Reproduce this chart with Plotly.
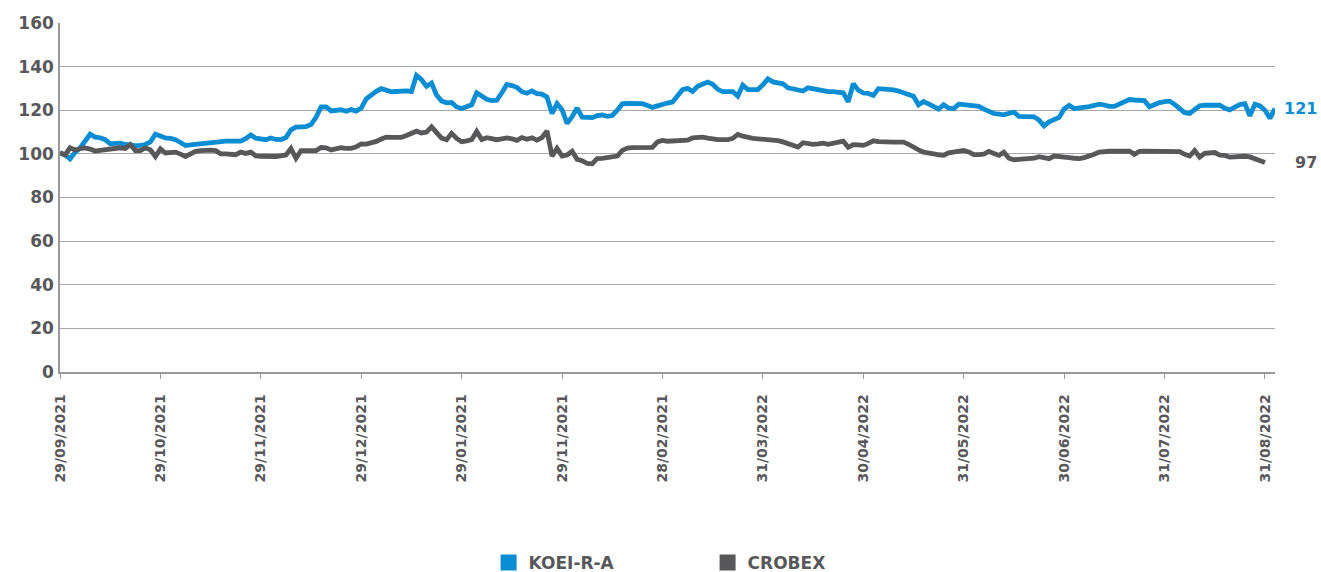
import plotly.graph_objects as go

# ---- data -----------------------------------------------------------------
tick_labels = ["29/09/2021", "29/10/2021", "29/11/2021", "29/12/2021", "29/01/2021",
               "29/11/2021", "28/02/2021", "31/03/2022", "30/04/2022", "31/05/2022",
               "30/06/2022", "31/07/2022", "31/08/2022"]
points_per_label = 20

koei = [
    100.5, 99.5, 97.7, 100.7, 102.7, 105.6, 109.0, 107.7, 107.4, 106.5,
    104.6, 104.8, 104.9, 104.3, 103.8, 103.8, 103.9, 104.3, 105.5, 109.0,
    108.2, 107.3, 107.1, 106.5, 105.2, 103.8, 104.1, 104.4, 104.6, 104.9,
    105.1, 105.4, 105.6, 105.8, 105.8, 105.8, 105.8, 107.0, 108.7, 107.2,
    106.9, 106.5, 107.3, 106.6, 106.5, 107.5, 111.0, 112.3, 112.4, 112.5,
    113.4, 116.8, 121.5, 121.5, 119.7, 120.0, 120.2, 119.5, 120.3, 119.6,
    121.0, 125.2, 127.3, 128.7, 129.9, 129.1, 128.5, 128.6, 128.8, 128.9,
    128.6, 136.0, 134.0, 131.0, 132.5, 127.0, 124.3, 123.4, 123.6, 121.5,
    120.8, 121.7, 122.5, 128.0, 126.4, 125.0, 124.4, 124.6, 128.0, 131.8,
    131.3, 130.5, 128.5, 127.8, 128.9, 127.6, 127.4, 126.0, 118.5, 123.0,
    120.2, 114.0, 117.0, 121.0, 116.8, 116.6, 116.6, 117.5, 117.8, 117.2,
    117.6, 120.0, 122.9, 123.1, 123.2, 123.3, 123.0, 122.2, 121.3, 122.0,
    122.9, 123.3, 123.8, 126.4, 129.4, 130.0, 128.6, 131.0, 132.2, 132.9,
    131.9, 129.6, 128.5, 128.5, 128.5, 126.5, 131.5, 129.5, 129.5, 129.5,
    131.7, 134.4, 133.0, 132.7, 132.1, 130.3, 129.7, 129.2, 128.8, 130.3,
    129.8, 129.3, 128.8, 128.5, 128.5, 128.5, 128.0, 123.8, 132.2, 129.2,
    127.9, 127.7, 126.8, 129.9, 129.8, 129.6, 129.3, 128.8, 128.1, 127.3,
    126.4, 122.5, 124.0, 122.9, 121.7, 120.5, 122.5, 121.0, 120.7, 122.8,
    122.6, 122.3, 122.0, 121.8, 120.5, 119.2, 118.5, 118.2, 117.9, 118.6,
    119.1, 117.2, 117.1, 117.0, 117.0, 115.5, 112.8, 114.7, 115.8, 116.7,
    120.6, 122.2, 120.8, 121.0, 121.2, 121.7, 122.2, 122.8, 122.4, 121.8,
    121.8, 122.8, 123.8, 124.9, 124.7, 124.6, 124.4, 121.6, 122.6, 123.5,
    124.0, 124.2, 122.7, 120.8, 118.9, 118.5, 120.0, 122.0, 122.3, 122.3,
    122.3, 122.3, 120.9, 120.2, 121.4, 122.6, 123.0, 117.5, 122.8, 122.0,
    120.0, 116.3, 120.8,
]

crobex = [
    100.5, 99.5, 102.8, 101.8, 102.4, 102.7, 102.2, 101.3, 101.6, 102.0,
    102.3, 102.6, 102.8, 102.5, 104.3, 101.5, 101.5, 102.7, 101.9, 98.8,
    102.3, 100.4, 100.6, 100.8, 99.9, 98.8, 100.0, 101.2, 101.5, 101.8,
    101.7, 101.5, 100.0, 100.0, 99.7, 99.6, 100.8, 100.2, 100.8, 99.1,
    98.9, 98.7, 98.5, 98.8, 99.1, 99.5, 102.5, 98.0, 101.5, 101.5,
    101.5, 101.5, 102.9, 102.8, 101.8, 102.3, 102.8, 102.5, 102.5, 103.2,
    104.6, 104.5, 105.0, 105.7, 106.8, 107.7, 107.6, 107.5, 107.6, 108.4,
    109.2, 110.4, 109.6, 110.0, 112.4, 109.8, 107.2, 106.5, 109.4, 107.1,
    105.6, 106.0, 106.5, 110.3, 106.6, 107.4, 106.9, 106.5, 106.9, 107.3,
    106.9, 106.2, 107.5, 106.7, 107.4, 106.3, 107.5, 110.5, 99.0, 102.5,
    99.0, 99.5, 101.2, 97.5, 96.9, 95.6, 95.5, 97.8, 97.9, 98.1,
    98.5, 99.0, 101.6, 102.7, 102.9, 102.8, 102.8, 102.9, 103.0, 105.5,
    106.2, 105.8, 105.8, 105.8, 105.8, 106.3, 107.3, 107.5, 107.7, 107.2,
    106.7, 106.5, 106.5, 106.5, 107.1, 108.9, 108.1, 107.4, 107.1, 106.9,
    106.8, 106.6, 106.5, 106.1, 105.5, 104.6, 103.6, 103.1, 105.1, 104.7,
    104.4, 104.6, 104.9, 104.4, 104.9, 105.3, 105.8, 103.0, 104.2, 104.1,
    103.9, 104.8, 106.0, 105.6, 105.4, 105.4, 105.4, 105.4, 105.4, 104.4,
    102.9, 101.8, 100.8, 100.2, 100.0, 99.6, 99.4, 100.5, 100.8, 101.2,
    101.6, 100.9, 99.7, 99.7, 99.9, 101.1, 100.2, 99.3, 100.8, 98.0,
    97.3, 97.4, 97.5, 97.6, 98.0, 98.7, 98.3, 97.8, 99.0, 98.9,
    98.6, 98.3, 98.0, 97.8, 98.3, 98.9, 99.8, 100.8, 101.2, 101.2,
    101.2, 101.3, 101.6, 101.3, 99.8, 101.2, 101.3, 101.3, 101.4, 101.4,
    101.5, 101.5, 101.5, 101.0, 99.8, 99.0, 101.5, 98.5, 100.2, 100.4,
    100.6, 99.4, 99.3, 98.5, 98.6, 99.1, 98.9, 98.6, 97.9, 97.0,
    96.0,
]

series_names = ["KOEI-R-A", "CROBEX"]
end_labels = ["121", "97"]
y_ticks = [0, 20, 40, 60, 80, 100, 120, 140, 160]

# ---- style ----------------------------------------------------------------
BLUE = "#0a8dd2"
GREY = "#58585a"
TEXT = "#58585a"
FONT = "DejaVu Sans"

x = list(range(len(koei)))
tickvals = [i * points_per_label for i in range(len(tick_labels))]

fig = go.Figure()
for name, vals, col in [(series_names[0], koei, BLUE), (series_names[1], crobex, GREY)]:
    fig.add_trace(go.Scatter(x=x, y=vals, mode="lines", name=name,
                             line=dict(color=col, width=4.8), showlegend=False,
                             hoverinfo="skip"))
    # legend-only square marker
    fig.add_trace(go.Scatter(x=[None], y=[None], mode="markers", name=name,
                             marker=dict(symbol="square", size=19, color=col),
                             showlegend=True))

for vals, col, lab in [(koei, BLUE, end_labels[0]), (crobex, GREY, end_labels[1])]:
    fig.add_annotation(xref="paper", yref="y", x=1.036, y=vals[-1],
                       xanchor="right", yanchor="middle",
                       text=f"<b>{lab}</b>", showarrow=False,
                       font=dict(family=FONT, size=16, color=col))

fig.update_layout(
    width=1321, height=572,
    margin=dict(l=60, r=46, t=23, b=200, autoexpand=False),
    paper_bgcolor="white", plot_bgcolor="white",
    font=dict(family=FONT, color=TEXT),
    legend=dict(orientation="h", x=0.533, xanchor="center", y=-0.547, yanchor="middle",
                font=dict(family=FONT, size=17, color=TEXT, weight="bold"),
                entrywidth=174, itemsizing="trace"),
)
fig.update_xaxes(
    range=[0, len(koei) - 1], tickvals=tickvals, ticktext=tick_labels,
    tickangle=-90, ticks="outside", ticklen=5, tickcolor="#9a9a9a",
    showline=True, linecolor="#9a9a9a", linewidth=1.5, showgrid=False,
    zeroline=False, automargin=False, ticklabelstandoff=10,
    tickfont=dict(family=FONT, size=14, color=TEXT, weight="bold"),
)
fig.update_yaxes(
    range=[0, 160], tickvals=y_ticks, showgrid=True, gridcolor="#a8a8a8", gridwidth=1,
    showline=True, linecolor="#9a9a9a", linewidth=1.5, zeroline=False,
    ticks="", ticklabelstandoff=1, automargin=False,
    tickfont=dict(family=FONT, size=17, color=TEXT, weight="bold"),
)

fig.write_html(
    "out.html",
    config={"displayModeBar": False},
    post_script="document.body.style.margin='0';document.body.style.overflow='hidden';",
)
